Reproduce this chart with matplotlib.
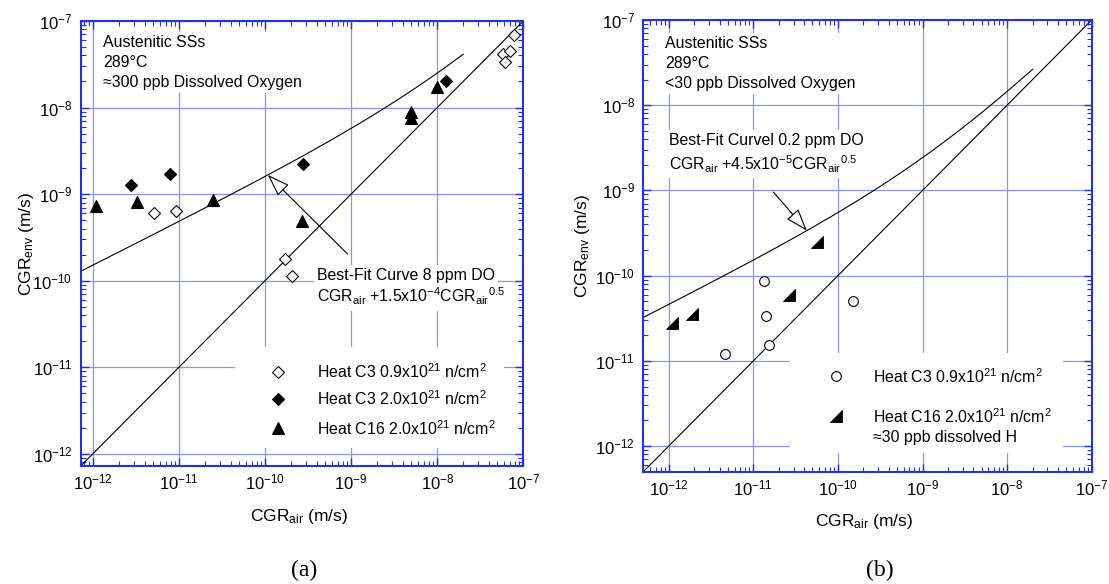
import numpy as np
import matplotlib
matplotlib.use("Agg")
import matplotlib.pyplot as plt
from matplotlib.path import Path
from matplotlib.patches import Rectangle
from matplotlib.ticker import LogLocator, LogFormatterMathtext, NullFormatter

plt.rcParams["font.family"] = ["Liberation Sans", "DejaVu Sans"]
plt.rcParams["mathtext.fontset"] = "custom"
plt.rcParams["mathtext.rm"] = "Liberation Sans"
plt.rcParams["mathtext.it"] = "Liberation Sans:italic"
plt.rcParams["mathtext.bf"] = "Liberation Sans:bold"
plt.rcParams["mathtext.default"] = "regular"

# ---------------- data: panel (a), ~300 ppb dissolved oxygen ----------------
c3_low_a_air = [5.2e-12, 9.3e-12, 1.71e-10, 2.07e-10, 5.8e-8, 6.05e-8, 7.05e-8, 7.7e-8]
c3_low_a_env = [6.0e-10, 6.4e-10, 1.77e-10, 1.14e-10, 4.2e-8, 3.4e-8, 4.5e-8, 6.8e-8]
c3_high_a_air = [2.8e-12, 7.9e-12, 2.76e-10, 1.26e-8]
c3_high_a_env = [1.27e-9, 1.73e-9, 2.22e-9, 2.03e-8]
c16_a_air = [1.1e-12, 3.3e-12, 2.5e-11, 2.68e-10, 5.0e-9, 5.0e-9, 9.85e-9]
c16_a_env = [7.2e-10, 8.2e-10, 8.55e-10, 4.93e-10, 8.9e-9, 7.5e-9, 1.73e-8]

# ---------------- data: panel (b), <30 ppb dissolved oxygen ----------------
c3_low_b_air = [1.34e-11, 1.41e-11, 1.53e-11, 4.6e-12, 1.49e-10]
c3_low_b_env = [8.55e-11, 3.36e-11, 1.55e-11, 1.19e-11, 5.1e-11]
c16_b_air = [1.1e-12, 1.87e-12, 2.65e-11, 5.7e-11]
c16_b_env = [2.78e-11, 3.55e-11, 5.97e-11, 2.5e-10]

# best-fit curves: CGR_env = CGR_air + A * CGR_air^0.5
fit_coef_a = 1.5e-4
fit_coef_b = 4.5e-5
fit_end = 2e-8

lim_a = (10 ** -12.14, 1e-7)
lim_b = (10 ** -12.30, 1e-7)

legend_a = [
    "Heat C3 0.9x10$^{21}$ n/cm$^{2}$",
    "Heat C3 2.0x10$^{21}$ n/cm$^{2}$",
    "Heat C16 2.0x10$^{21}$ n/cm$^{2}$",
]
legend_b = [
    "Heat C3 0.9x10$^{21}$ n/cm$^{2}$",
    "Heat C16 2.0x10$^{21}$ n/cm$^{2}$",
    "\u224830 ppb dissolved H",
]

SPINE = "#2233dd"
GRID = "#8595f0"
FS = 11.4


def fit(x, coef):
    x = np.asarray(x, dtype=float)
    return x + coef * np.sqrt(x)


# right-angled half triangle marker
half_tri = Path([(-1, -1), (1, -1), (1, 1), (-1, -1)],
                [Path.MOVETO, Path.LINETO, Path.LINETO, Path.CLOSEPOLY])


def style_axes(ax, lim):
    ax.set_xscale("log")
    ax.set_yscale("log")
    ax.set_xlim(lim)
    ax.set_ylim(lim)
    for axis in (ax.xaxis, ax.yaxis):
        axis.set_major_locator(LogLocator(base=10, numticks=20))
        axis.set_minor_locator(LogLocator(base=10, subs=np.arange(2, 10), numticks=20))
        axis.set_major_formatter(LogFormatterMathtext())
        axis.set_minor_formatter(NullFormatter())
    ax.set_axisbelow(True)
    ax.grid(True, which="major", color=GRID, lw=0.9)
    for s in ax.spines.values():
        s.set_color(SPINE)
        s.set_linewidth(1.5)
    ax.tick_params(which="both", direction="in", top=True, right=True,
                   color=SPINE, labelcolor="black", labelsize=12)
    ax.tick_params(which="major", length=5.5, width=1.0)
    ax.tick_params(which="minor", length=3.5, width=0.8)
    ax.tick_params(axis="y", pad=6)
    ax.tick_params(axis="x", pad=5)


fig = plt.figure(figsize=(11.09, 5.84), dpi=100)
box = dict(boxstyle="square,pad=0.2", fc="white", ec="none")
arrow = dict(arrowstyle="-|>,head_length=1.0,head_width=0.35", fc="white",
             ec="black", lw=0.8, mutation_scale=14, shrinkA=0, shrinkB=0)

# ============================ panel (a) ============================
ax = fig.add_axes([0.0728, 0.2021, 0.3991, 0.762])
style_axes(ax, lim_a)

xs = np.logspace(np.log10(lim_a[0]), -7, 200)
ax.plot(xs, xs, color="black", lw=0.8, zorder=2)
xf = np.logspace(np.log10(lim_a[0]), np.log10(fit_end), 200)
ax.plot(xf, fit(xf, fit_coef_a), color="black", lw=0.8, zorder=2)

ax.plot(c3_low_a_air, c3_low_a_env, ls="none", marker="D", ms=5.7, mfc="white",
        mec="black", mew=0.8, zorder=4)
ax.plot(c3_high_a_air, c3_high_a_env, ls="none", marker="D", ms=5.7, mfc="black",
        mec="black", mew=0.8, zorder=4)
ax.plot(c16_a_air, c16_a_env, ls="none", marker="^", ms=8, mfc="black",
        mec="black", mew=0.8, zorder=4)

ax.text(0.0499, 0.907, "Austenitic SSs\n289\u00b0C\n\u2248300 ppb Dissolved Oxygen",
        transform=ax.transAxes, fontsize=FS, va="center", ha="left",
        linespacing=1.4, bbox=box, zorder=3)

ax.text(0.5332, 0.4285, "Best-Fit Curve 8 ppm DO", transform=ax.transAxes,
        fontsize=FS, va="center", ha="left", bbox=box, zorder=3)
ax.text(0.5332, 0.3804, "CGR$_{air}$ +1.5x10$^{-4}$CGR$_{air}$$^{0.5}$",
        transform=ax.transAxes, fontsize=FS, va="center", ha="left", bbox=box, zorder=3)
head_x = 10 ** -9.967
ax.annotate("", xy=(head_x, float(fit(head_x, fit_coef_a))),
            xytext=(10 ** -9.041, 10 ** -9.692), arrowprops=arrow, zorder=3)

ax.add_patch(Rectangle((0.348, 0.04), 0.608, 0.228, transform=ax.transAxes,
                       fc="white", ec="none", zorder=1))
rows_a = [0.212, 0.1506, 0.0847]
marks_a = [("D", "white", 5.7), ("D", "black", 5.7), ("^", "black", 8)]
for y, (m, fc, ms), lab in zip(rows_a, marks_a, legend_a):
    ax.plot([0.4465], [y], transform=ax.transAxes, ls="none", marker=m, ms=ms,
            mfc=fc, mec="black", mew=0.8, zorder=4)
    ax.text(0.533, y, lab, transform=ax.transAxes, fontsize=FS, va="center",
            ha="left", zorder=4)

ax.set_xlabel("CGR$_{air}$ (m/s)", fontsize=12.5, va="center")
ax.set_ylabel("CGR$_{env}$ (m/s)", fontsize=12.5, va="center", ha="center")
ax.xaxis.set_label_coords(0.493, -0.114)
ax.yaxis.set_label_coords(-0.122, 0.5)

# ============================ panel (b) ============================
bx = fig.add_axes([0.5801, 0.1923, 0.4043, 0.7735])
style_axes(bx, lim_b)

xs = np.logspace(np.log10(lim_b[0]), -7, 200)
bx.plot(xs, xs, color="black", lw=0.8, zorder=2)
xf = np.logspace(np.log10(lim_b[0]), np.log10(fit_end), 200)
bx.plot(xf, fit(xf, fit_coef_b), color="black", lw=0.8, zorder=2)

bx.plot(c3_low_b_air, c3_low_b_env, ls="none", marker="o", ms=7, mfc="white",
        mec="black", mew=0.8, zorder=4)
bx.plot(c16_b_air, c16_b_env, ls="none", marker=half_tri, ms=8, mfc="black",
        mec="black", mew=0.6, zorder=4)

bx.text(0.0488, 0.9041, "Austenitic SSs\n289\u00b0C\n<30 ppb Dissolved Oxygen",
        transform=bx.transAxes, fontsize=FS, va="center", ha="left",
        linespacing=1.4, bbox=box, zorder=3)
bx.text(0.0566, 0.733, "Best-Fit Curvel 0.2 ppm DO", transform=bx.transAxes,
        fontsize=FS, va="center", ha="left", bbox=box, zorder=3)
bx.text(0.0566, 0.6805, "CGR$_{air}$ +4.5x10$^{-5}$CGR$_{air}$$^{0.5}$",
        transform=bx.transAxes, fontsize=FS, va="center", ha="left", bbox=box, zorder=3)
head_x = 10 ** -10.367
bx.annotate("", xy=(head_x, float(fit(head_x, fit_coef_b))),
            xytext=(10 ** -10.762, 10 ** -9.02), arrowprops=arrow, zorder=3)

bx.add_patch(Rectangle((0.327, 0.0407), 0.61, 0.2213, transform=bx.transAxes,
                       fc="white", ec="none", zorder=1))
bx.plot([0.4298], [0.212], transform=bx.transAxes, ls="none", marker="o", ms=7,
        mfc="white", mec="black", mew=0.8, zorder=4)
bx.plot([0.4298], [0.1233], transform=bx.transAxes, ls="none", marker=half_tri,
        ms=8, mfc="black", mec="black", mew=0.6, zorder=4)
for y, lab in zip([0.2097, 0.1209, 0.0766], legend_b):
    bx.text(0.513, y, lab, transform=bx.transAxes, fontsize=FS, va="center",
            ha="left", zorder=4)

bx.set_xlabel("CGR$_{air}$ (m/s)", fontsize=12.5, va="center")
bx.set_ylabel("CGR$_{env}$ (m/s)", fontsize=12.5, va="center", ha="center")
bx.xaxis.set_label_coords(0.493, -0.111)
bx.yaxis.set_label_coords(-0.136, 0.5)

fig.text(0.2738, 0.024, "(a)", family="Liberation Serif", fontsize=17,
         ha="center", va="center")
fig.text(0.7935, 0.024, "(b)", family="Liberation Serif", fontsize=17,
         ha="center", va="center")

fig.savefig("out.png", dpi=100, facecolor="white")
